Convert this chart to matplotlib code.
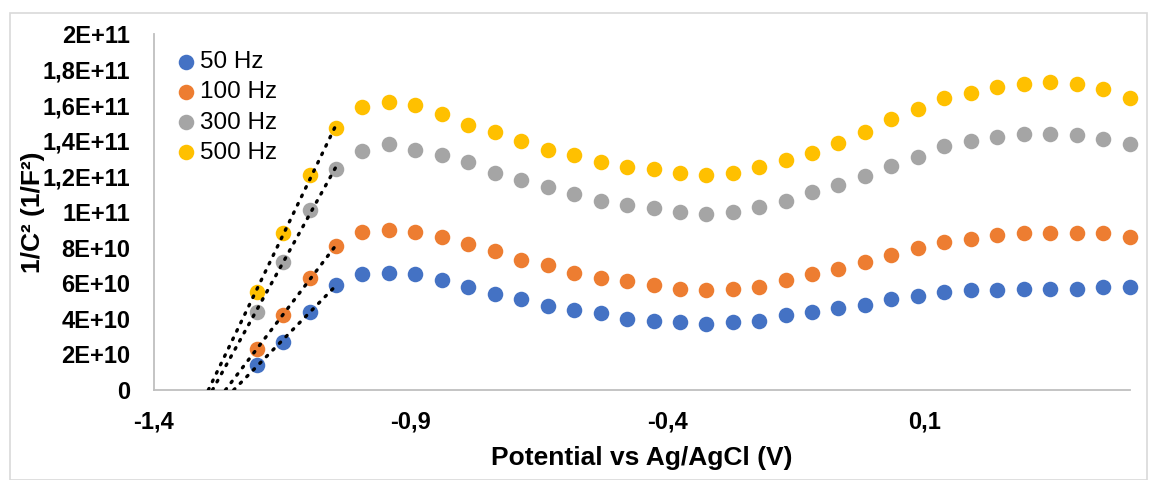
import numpy as np
import matplotlib.pyplot as plt
from matplotlib.patches import Rectangle

# Dados
potential = [-1.200, -1.148, -1.097, -1.045, -0.994, -0.942, -0.891, -0.839, -0.788,
             -0.736, -0.685, -0.633, -0.582, -0.530, -0.479, -0.427, -0.376, -0.324,
             -0.273, -0.221, -0.170, -0.118, -0.067, -0.015, 0.036, 0.088, 0.139,
             0.191, 0.242, 0.294, 0.345, 0.397, 0.448, 0.500]

# 1/C^2 em unidades de 1E10
hz50 = [1.4, 2.7, 4.4, 5.9, 6.5, 6.6, 6.5, 6.2, 5.8, 5.4, 5.1, 4.7, 4.5, 4.3, 4.0, 3.9, 3.8,
        3.7, 3.8, 3.9, 4.2, 4.4, 4.6, 4.8, 5.1, 5.3, 5.5, 5.6, 5.6, 5.7, 5.7, 5.7, 5.8, 5.8]
hz100 = [2.3, 4.2, 6.3, 8.1, 8.9, 9.0, 8.9, 8.6, 8.2, 7.8, 7.3, 7.0, 6.6, 6.3, 6.1, 5.9, 5.7,
         5.6, 5.7, 5.8, 6.2, 6.5, 6.8, 7.2, 7.6, 8.0, 8.3, 8.5, 8.7, 8.8, 8.8, 8.8, 8.8, 8.6]
hz300 = [4.4, 7.2, 10.1, 12.4, 13.4, 13.8, 13.5, 13.2, 12.8, 12.2, 11.8, 11.4, 11.0, 10.6,
         10.4, 10.2, 10.0, 9.9, 10.0, 10.3, 10.6, 11.1, 11.5, 12.0, 12.6, 13.1, 13.7, 14.0,
         14.2, 14.4, 14.4, 14.3, 14.1, 13.8]
hz500 = [5.5, 8.8, 12.1, 14.7, 15.9, 16.2, 16.0, 15.5, 14.9, 14.5, 14.0, 13.5, 13.2, 12.8,
         12.5, 12.4, 12.2, 12.1, 12.2, 12.5, 12.9, 13.3, 13.9, 14.5, 15.2, 15.8, 16.4, 16.7,
         17.0, 17.2, 17.3, 17.2, 16.9, 16.4]

series = [('50 Hz', hz50, '#4472C4'), ('100 Hz', hz100, '#ED7D31'),
          ('300 Hz', hz300, '#A5A5A5'), ('500 Hz', hz500, '#FFC000')]

x_ticks = [-1.4, -0.9, -0.4, 0.1]
x_labels = ['-1,4', '-0,9', '-0,4', '0,1']
y_ticks = [0, 2e10, 4e10, 6e10, 8e10, 1e11, 1.2e11, 1.4e11, 1.6e11, 1.8e11, 2e11]
y_labels = ['0', '2E+10', '4E+10', '6E+10', '8E+10', '1E+11', '1,2E+11', '1,4E+11',
            '1,6E+11', '1,8E+11', '2E+11']
n_fit = 4  # pontos usados na reta (Mott-Schottky)

plt.rcParams['font.family'] = ['Liberation Sans', 'DejaVu Sans']

fig = plt.figure(figsize=(11.55, 4.8), dpi=100)
ax = fig.add_axes([0.1333, 0.1875, 0.8447, 0.7417])
fig.patches.append(Rectangle((0.009, 0.0), 0.984, 0.973, transform=fig.transFigure,
                             fill=False, edgecolor='#D9D9D9', linewidth=1.2))

x = np.array(potential)
for name, vals, cor in series:
    y = np.array(vals) * 1e10
    ax.scatter(x, y, s=125, color=cor, label=name, zorder=3, linewidths=0, clip_on=False)
    # Reta de tendencia com previsao para tras ate y = 0
    a, b = np.polyfit(x[:n_fit], y[:n_fit], 1)
    xs = np.array([-b / a, x[n_fit - 1]])
    ax.plot(xs, a * xs + b, color='black', linestyle=(0, (0.5, 2.3)), linewidth=2.4,
            dash_capstyle='round', zorder=4)

ax.set_xlim(-1.4, 0.5)
ax.set_ylim(0, 2e11)
ax.set_xticks(x_ticks)
ax.set_xticklabels(x_labels, fontsize=17, fontweight='bold')
ax.set_yticks(y_ticks)
ax.set_yticklabels(y_labels, fontsize=17, fontweight='bold')
ax.tick_params(length=0)
ax.tick_params(axis='x', pad=15)
ax.tick_params(axis='y', pad=17)

for s in ['top', 'right']:
    ax.spines[s].set_visible(False)
for s in ['left', 'bottom']:
    ax.spines[s].set_color('#BFBFBF')
    ax.spines[s].set_linewidth(1.3)

ax.set_xlabel('Potential vs Ag/AgCl (V)', fontsize=19, fontweight='bold')
ax.set_ylabel('1/C² (1/F²)', fontsize=19, fontweight='bold')
ax.xaxis.set_label_coords(0.5, -0.158)
ax.yaxis.set_label_coords(-0.112, 0.5)

ax.legend(loc='upper left', bbox_to_anchor=(0.0, 1.0), frameon=False, fontsize=17.5,
          handletextpad=0.0, labelspacing=0.34, borderaxespad=0.3, handlelength=1.2,
          scatterpoints=1)

plt.savefig('out.png', dpi=100)
